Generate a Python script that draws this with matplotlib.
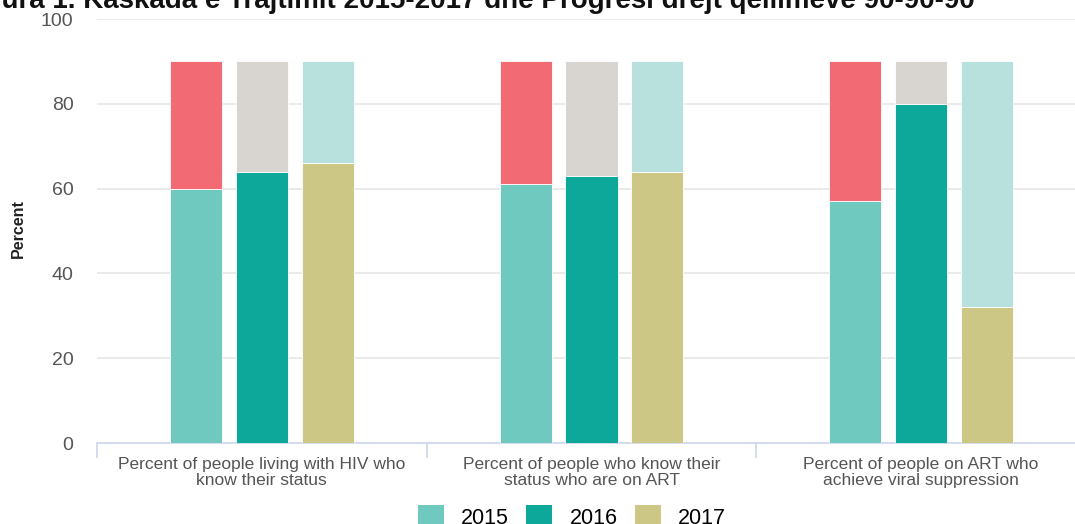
import matplotlib.pyplot as plt
import numpy as np
from matplotlib.patches import Patch

# Data
categories = ["Percent of people living with HIV who\nknow their status",
              "Percent of people who know their\nstatus who are on ART",
              "Percent of people on ART who\nachieve viral suppression"]
years = ["2015", "2016", "2017"]
values = {
    "2015": [60, 61, 57],
    "2016": [64, 63, 80],
    "2017": [66, 64, 32],
}
target = 90

base_colors = {"2015": "#70C9BE", "2016": "#0DA89A", "2017": "#CCC785"}
rest_colors = {"2015": "#F26A74", "2016": "#D8D5D0", "2017": "#B8E1DE"}

plt.rcParams['font.family'] = ['Liberation Sans', 'DejaVu Sans']

fig = plt.figure(figsize=(10.75, 5.24), dpi=100)
ax = fig.add_axes([97 / 1075, 1 - 443 / 524, 989 / 1075, 424 / 524])

x = np.arange(len(categories))
width = 0.158
offsets = [-0.2, 0.0, 0.2]

for yr, off in zip(years, offsets):
    v = np.array(values[yr])
    ax.bar(x + off, v, width, color=base_colors[yr], edgecolor="#ffffff", linewidth=0.6, zorder=3)
    ax.bar(x + off, target - v, width, bottom=v, color=rest_colors[yr], edgecolor="#ffffff",
           linewidth=0.6, zorder=3)

ax.set_xlim(-0.5, 2.5)
ax.set_ylim(0, 100)
ax.set_yticks(range(0, 101, 20))
ax.grid(axis="y", color="#E6E6E6", linewidth=1.2, zorder=0)
ax.tick_params(axis="y", length=0, pad=17, labelsize=14, labelcolor="#555555")

ax.set_xticks(x)
ax.set_xticklabels(categories, fontsize=12.5, color="#555555", linespacing=1.12)
ax.tick_params(axis="x", length=0, pad=10)
ax.set_xticks([-0.5, 0.5, 1.5, 2.5], minor=True)
ax.tick_params(axis="x", which="minor", length=11, color="#CCD6EB", width=1.2)

for s in ["top", "right", "left"]:
    ax.spines[s].set_visible(False)
ax.spines["bottom"].set_color("#CCD6EB")
ax.spines["bottom"].set_linewidth(1.2)

fig.text(18 / 1075, 1 - 229 / 524, "Percent", rotation=90, ha="center", va="center",
         fontsize=11.5, fontweight="bold", color="#222222")

fig.text(975 / 1075, 1 - 8 / 524, "Figura 1. Kaskada e Trajtimit 2015-2017 dhe Progresi drejt qëllimeve 90-90-90",
         ha="right", va="baseline", fontsize=20, fontweight="bold", color="#111111")

handles = [Patch(facecolor=base_colors[yr], label=yr) for yr in years]
fig.legend(handles=handles, loc="center", bbox_to_anchor=(572 / 1075, 1 - 517 / 524), ncol=3,
           frameon=False, fontsize=15.5, handlelength=1.2, handleheight=1.2, columnspacing=0.8,
           handletextpad=0.8, borderpad=0)

fig.savefig("out.png", dpi=100)
